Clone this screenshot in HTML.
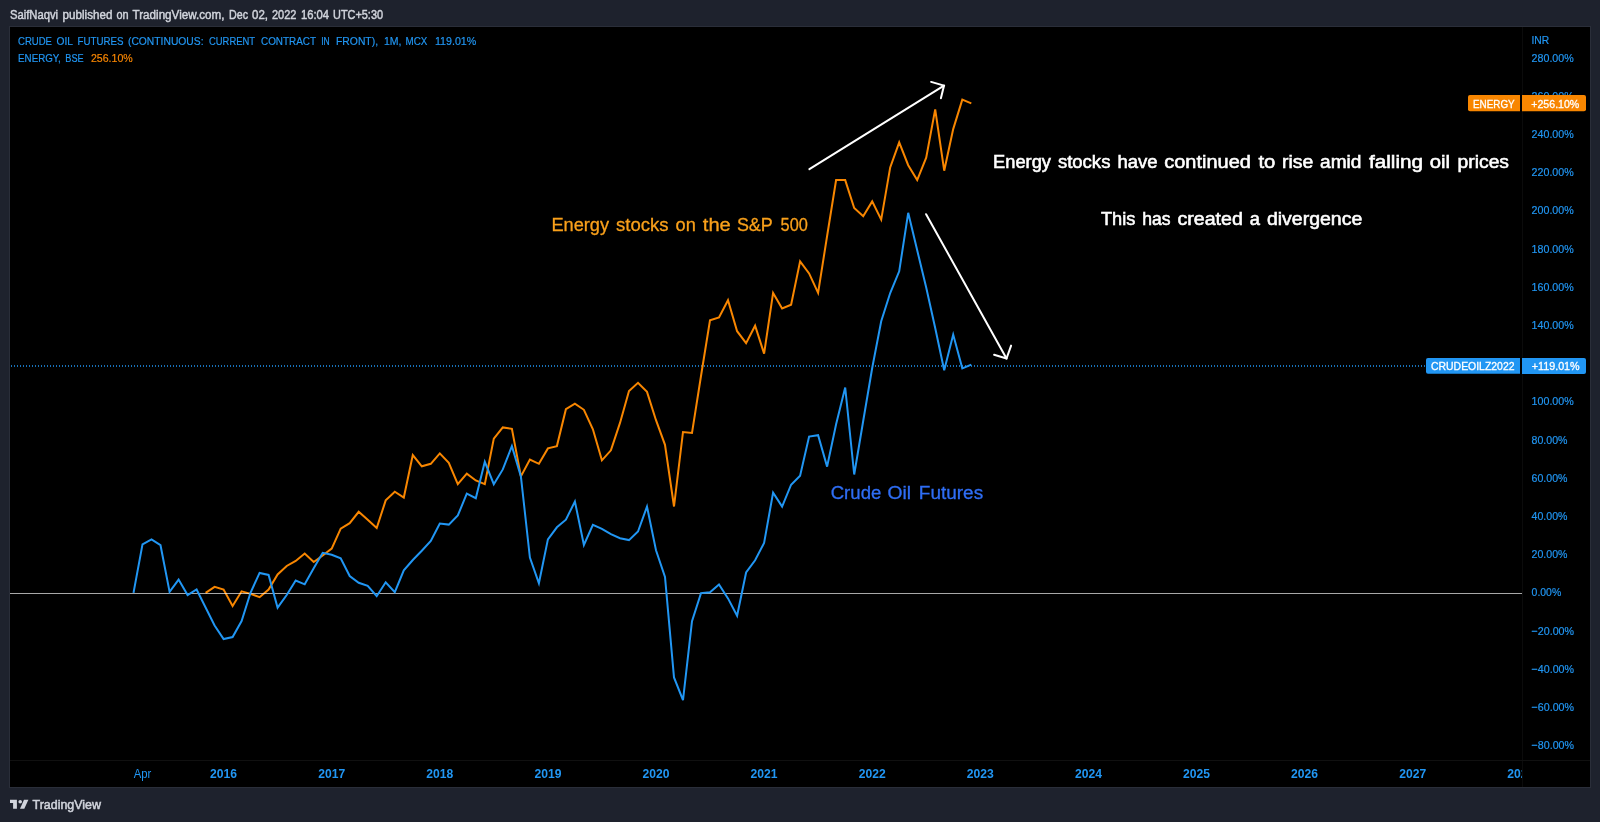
<!DOCTYPE html>
<html><head><meta charset="utf-8"><style>
html,body{margin:0;padding:0;background:#1e222d;width:1600px;height:822px;overflow:hidden}
svg{display:block;font-family:"Liberation Sans", sans-serif}
.wrap{will-change:transform;width:1600px;height:822px}
.ax{fill:#2196f3;stroke:#2196f3;stroke-width:0.2px;font-size:11.6px}
.yr{fill:#2196f3;font-size:12px;font-weight:bold}
.mo{fill:#2196f3;font-size:12px}
</style></head><body><div class="wrap">
<svg width="1600" height="822" viewBox="0 0 1600 822">
<rect x="0" y="0" width="1600" height="822" fill="#1e222d"/>
<text x="9.90" y="18.60" font-size="12" fill="#d1d4dc" textLength="48.16" lengthAdjust="spacingAndGlyphs" stroke="#d1d4dc" stroke-width="0.45">SaifNaqvi</text>
<text x="62.60" y="18.60" font-size="12" fill="#d1d4dc" textLength="49.77" lengthAdjust="spacingAndGlyphs" stroke="#d1d4dc" stroke-width="0.45">published</text>
<text x="116.40" y="18.60" font-size="12" fill="#d1d4dc" textLength="12.14" lengthAdjust="spacingAndGlyphs" stroke="#d1d4dc" stroke-width="0.45">on</text>
<text x="132.50" y="18.60" font-size="12" fill="#d1d4dc" textLength="92.01" lengthAdjust="spacingAndGlyphs" stroke="#d1d4dc" stroke-width="0.45">TradingView.com,</text>
<text x="229.00" y="18.60" font-size="12" fill="#d1d4dc" textLength="19.03" lengthAdjust="spacingAndGlyphs" stroke="#d1d4dc" stroke-width="0.45">Dec</text>
<text x="252.00" y="18.60" font-size="12" fill="#d1d4dc" textLength="15.98" lengthAdjust="spacingAndGlyphs" stroke="#d1d4dc" stroke-width="0.45">02,</text>
<text x="272.00" y="18.60" font-size="12" fill="#d1d4dc" textLength="24.49" lengthAdjust="spacingAndGlyphs" stroke="#d1d4dc" stroke-width="0.45">2022</text>
<text x="301.00" y="18.60" font-size="12" fill="#d1d4dc" textLength="28.03" lengthAdjust="spacingAndGlyphs" stroke="#d1d4dc" stroke-width="0.45">16:04</text>
<text x="333.00" y="18.60" font-size="12" fill="#d1d4dc" textLength="50.02" lengthAdjust="spacingAndGlyphs" stroke="#d1d4dc" stroke-width="0.45">UTC+5:30</text>
<rect x="9.5" y="26.5" width="1581" height="761" fill="#000" stroke="#2a2e39" stroke-width="1"/>
<line x1="1522.5" y1="27" x2="1522.5" y2="787" stroke="#0b0b0b" stroke-width="1"/>
<line x1="10" y1="760.5" x2="1590" y2="760.5" stroke="#101010" stroke-width="1"/>
<svg x="10" y="27" width="1512" height="733" viewBox="10 27 1512 733" overflow="hidden">
<line x1="10" y1="366" x2="1426" y2="366" stroke="#2196f3" stroke-width="1.35" stroke-dasharray="1 2" stroke-dashoffset="2"/>
<polyline points="205.6,592.9 214.6,586.8 223.6,589.5 232.6,606.0 241.6,591.3 250.6,593.9 259.6,597.2 268.6,589.5 277.6,574.5 286.7,566.0 295.7,560.9 304.7,553.5 313.7,562.0 322.7,555.5 331.7,548.6 340.7,528.6 349.7,523.2 358.7,511.8 367.7,519.7 376.7,528.0 385.7,500.4 394.8,491.7 403.8,497.5 412.8,455.1 421.8,466.3 430.8,463.8 439.8,453.4 448.8,462.9 457.8,484.2 466.8,473.6 475.8,480.5 484.8,484.2 493.8,438.6 502.8,427.4 511.9,428.8 520.9,476.4 529.9,459.6 538.9,463.8 547.9,448.4 556.9,446.1 565.9,409.2 574.9,403.6 583.9,409.8 592.9,429.3 601.9,460.3 610.9,450.3 620.0,422.9 629.0,391.0 638.0,382.8 647.0,391.9 656.0,420.2 665.0,444.8 674.0,506.5 683.0,432.0 692.0,433.0 701.0,376.0 710.0,320.3 719.0,317.5 728.0,300.2 737.1,331.2 746.1,343.1 755.1,325.7 764.1,353.6 773.1,292.9 782.1,308.4 791.1,304.7 800.1,261.3 809.1,273.4 818.1,292.9 827.1,236.0 836.1,180.1 845.2,180.1 854.2,208.0 863.2,216.3 872.2,201.4 881.2,219.6 890.2,167.4 899.2,142.3 908.2,165.2 917.2,180.1 926.2,157.6 935.2,109.4 944.2,170.7 953.2,129.1 962.3,99.6 971.3,103.3" fill="none" stroke="#f88600" stroke-width="2" stroke-linejoin="miter"/>
<line x1="10" y1="593.5" x2="1522" y2="593.5" stroke="#ffffff" stroke-opacity="0.66" stroke-width="1"/>
<polyline points="133.5,592.9 142.5,544.4 151.5,539.3 160.5,545.2 169.6,591.9 178.6,579.6 187.6,595.1 196.6,589.5 205.6,607.5 214.6,625.5 223.6,639.1 232.6,637.1 241.6,621.0 250.6,592.5 259.6,572.9 268.6,574.9 277.6,607.7 286.7,595.0 295.7,580.5 304.7,584.3 313.7,568.3 322.7,552.8 331.7,554.8 340.7,558.3 349.7,576.0 358.7,582.8 367.7,585.9 376.7,596.2 385.7,582.3 394.8,592.1 403.8,570.3 412.8,560.0 421.8,550.7 430.8,541.0 439.8,523.6 448.8,524.6 457.8,515.5 466.8,493.7 475.8,498.2 484.8,461.8 493.8,484.2 502.8,469.4 511.9,446.1 520.9,476.4 529.9,557.5 538.9,583.3 547.9,539.3 556.9,527.3 565.9,519.7 574.9,501.5 583.9,544.9 592.9,524.8 601.9,528.8 610.9,534.2 620.0,538.2 629.0,540.1 638.0,531.5 647.0,506.6 656.0,550.2 665.0,577.0 674.0,677.4 683.0,700.2 692.0,621.2 701.0,593.1 710.0,592.3 719.0,584.5 728.0,598.4 737.1,615.8 746.1,572.5 755.1,560.3 764.1,543.0 773.1,492.6 782.1,506.6 791.1,484.7 800.1,475.8 809.1,436.6 818.1,435.2 827.1,466.6 836.1,424.2 845.2,387.5 854.2,474.5 863.2,421.0 872.2,368.0 881.2,321.3 890.2,293.0 899.2,271.3 908.2,212.8 917.2,250.3 926.2,287.5 935.2,328.0 944.2,370.3 953.2,334.6 962.3,368.3 971.3,364.6" fill="none" stroke="#2196f3" stroke-width="2" stroke-linejoin="miter"/>
<g stroke="#fff" stroke-width="2" stroke-linecap="round" fill="none">
<line x1="809.4" y1="169.2" x2="944" y2="85.6"/>
<polyline points="931.1,81.9 944,85.6 940.9,98.2"/>
<line x1="926.1" y1="214.2" x2="1006.5" y2="358.5"/>
<polyline points="994.1,354.8 1006.5,358.5 1011.1,345.6"/>
</g>
<text x="993.10" y="168.20" font-size="18" fill="#ffffff" textLength="57.83" lengthAdjust="spacingAndGlyphs" stroke="#ffffff" stroke-width="0.55">Energy</text>
<text x="1057.90" y="168.20" font-size="18" fill="#ffffff" textLength="52.51" lengthAdjust="spacingAndGlyphs" stroke="#ffffff" stroke-width="0.55">stocks</text>
<text x="1117.40" y="168.20" font-size="18" fill="#ffffff" textLength="40.23" lengthAdjust="spacingAndGlyphs" stroke="#ffffff" stroke-width="0.55">have</text>
<text x="1164.30" y="168.20" font-size="18" fill="#ffffff" textLength="86.56" lengthAdjust="spacingAndGlyphs" stroke="#ffffff" stroke-width="0.55">continued</text>
<text x="1258.40" y="168.20" font-size="18" fill="#ffffff" textLength="16.91" lengthAdjust="spacingAndGlyphs" stroke="#ffffff" stroke-width="0.55">to</text>
<text x="1282.00" y="168.20" font-size="18" fill="#ffffff" textLength="31.30" lengthAdjust="spacingAndGlyphs" stroke="#ffffff" stroke-width="0.55">rise</text>
<text x="1320.00" y="168.20" font-size="18" fill="#ffffff" textLength="41.41" lengthAdjust="spacingAndGlyphs" stroke="#ffffff" stroke-width="0.55">amid</text>
<text x="1369.00" y="168.20" font-size="18" fill="#ffffff" textLength="54.03" lengthAdjust="spacingAndGlyphs" stroke="#ffffff" stroke-width="0.55">falling</text>
<text x="1429.70" y="168.20" font-size="18" fill="#ffffff" textLength="20.31" lengthAdjust="spacingAndGlyphs" stroke="#ffffff" stroke-width="0.55">oil</text>
<text x="1457.60" y="168.20" font-size="18" fill="#ffffff" textLength="51.42" lengthAdjust="spacingAndGlyphs" stroke="#ffffff" stroke-width="0.55">prices</text>
<text x="1101.00" y="225.00" font-size="18" fill="#ffffff" textLength="34.40" lengthAdjust="spacingAndGlyphs" stroke="#ffffff" stroke-width="0.55">This</text>
<text x="1142.30" y="225.00" font-size="18" fill="#ffffff" textLength="28.32" lengthAdjust="spacingAndGlyphs" stroke="#ffffff" stroke-width="0.55">has</text>
<text x="1177.50" y="225.00" font-size="18" fill="#ffffff" textLength="65.34" lengthAdjust="spacingAndGlyphs" stroke="#ffffff" stroke-width="0.55">created</text>
<text x="1249.70" y="225.00" font-size="18" fill="#ffffff" textLength="10.21" lengthAdjust="spacingAndGlyphs" stroke="#ffffff" stroke-width="0.55">a</text>
<text x="1266.90" y="225.00" font-size="18" fill="#ffffff" textLength="95.35" lengthAdjust="spacingAndGlyphs" stroke="#ffffff" stroke-width="0.55">divergence</text>
<text x="551.40" y="231.00" font-size="18" fill="#f9a01b" textLength="57.73" lengthAdjust="spacingAndGlyphs" stroke="#f9a01b" stroke-width="0.3">Energy</text>
<text x="616.10" y="231.00" font-size="18" fill="#f9a01b" textLength="52.51" lengthAdjust="spacingAndGlyphs" stroke="#f9a01b" stroke-width="0.3">stocks</text>
<text x="675.60" y="231.00" font-size="18" fill="#f9a01b" textLength="20.22" lengthAdjust="spacingAndGlyphs" stroke="#f9a01b" stroke-width="0.3">on</text>
<text x="702.80" y="231.00" font-size="18" fill="#f9a01b" textLength="28.03" lengthAdjust="spacingAndGlyphs" stroke="#f9a01b" stroke-width="0.3">the</text>
<text x="736.90" y="231.00" font-size="18" fill="#f9a01b" textLength="35.92" lengthAdjust="spacingAndGlyphs" stroke="#f9a01b" stroke-width="0.3">S&amp;P</text>
<text x="780.60" y="231.00" font-size="18" fill="#f9a01b" textLength="27.23" lengthAdjust="spacingAndGlyphs" stroke="#f9a01b" stroke-width="0.3">500</text>
<text x="830.70" y="499.10" font-size="18.3" fill="#2f6ef5" textLength="50.64" lengthAdjust="spacingAndGlyphs" stroke="#2f6ef5" stroke-width="0.3">Crude</text>
<text x="887.50" y="499.10" font-size="18.3" fill="#2f6ef5" textLength="23.56" lengthAdjust="spacingAndGlyphs" stroke="#2f6ef5" stroke-width="0.3">Oil</text>
<text x="918.80" y="499.10" font-size="18.3" fill="#2f6ef5" textLength="64.34" lengthAdjust="spacingAndGlyphs" stroke="#2f6ef5" stroke-width="0.3">Futures</text>
<text x="18.00" y="44.60" font-size="11.7" fill="#2196f3" textLength="34.00" lengthAdjust="spacingAndGlyphs" stroke="#2196f3" stroke-width="0.2">CRUDE</text>
<text x="56.50" y="44.60" font-size="11.7" fill="#2196f3" textLength="16.46" lengthAdjust="spacingAndGlyphs" stroke="#2196f3" stroke-width="0.2">OIL</text>
<text x="77.50" y="44.60" font-size="11.7" fill="#2196f3" textLength="45.96" lengthAdjust="spacingAndGlyphs" stroke="#2196f3" stroke-width="0.2">FUTURES</text>
<text x="128.00" y="44.60" font-size="11.7" fill="#2196f3" textLength="75.50" lengthAdjust="spacingAndGlyphs" stroke="#2196f3" stroke-width="0.2">(CONTINUOUS:</text>
<text x="209.00" y="44.60" font-size="11.7" fill="#2196f3" textLength="46.00" lengthAdjust="spacingAndGlyphs" stroke="#2196f3" stroke-width="0.2">CURRENT</text>
<text x="261.00" y="44.60" font-size="11.7" fill="#2196f3" textLength="55.00" lengthAdjust="spacingAndGlyphs" stroke="#2196f3" stroke-width="0.2">CONTRACT</text>
<text x="321.20" y="44.60" font-size="11.7" fill="#2196f3" textLength="8.50" lengthAdjust="spacingAndGlyphs" stroke="#2196f3" stroke-width="0.2">IN</text>
<text x="336.00" y="44.60" font-size="11.7" fill="#2196f3" textLength="42.04" lengthAdjust="spacingAndGlyphs" stroke="#2196f3" stroke-width="0.2">FRONT),</text>
<text x="383.90" y="44.60" font-size="11.7" fill="#2196f3" textLength="17.50" lengthAdjust="spacingAndGlyphs" stroke="#2196f3" stroke-width="0.2">1M,</text>
<text x="405.60" y="44.60" font-size="11.7" fill="#2196f3" textLength="21.80" lengthAdjust="spacingAndGlyphs" stroke="#2196f3" stroke-width="0.2">MCX</text>
<text x="434.90" y="44.60" font-size="11.7" fill="#2196f3" textLength="41.41" lengthAdjust="spacingAndGlyphs" stroke="#2196f3" stroke-width="0.2">119.01%</text>
<text x="18.10" y="61.60" font-size="11.7" fill="#2196f3" textLength="42.66" lengthAdjust="spacingAndGlyphs" stroke="#2196f3" stroke-width="0.2">ENERGY,</text>
<text x="65.30" y="61.60" font-size="11.7" fill="#2196f3" textLength="18.31" lengthAdjust="spacingAndGlyphs" stroke="#2196f3" stroke-width="0.2">BSE</text>
<text x="90.90" y="61.60" font-size="11.7" fill="#f88600" textLength="41.89" lengthAdjust="spacingAndGlyphs" stroke="#f88600" stroke-width="0.2">256.10%</text>



</svg>
<svg x="10" y="760" width="1512" height="27" viewBox="10 760 1512 27" overflow="hidden">
<text x="133.80" y="778" class="mo" textLength="17.58" lengthAdjust="spacingAndGlyphs">Apr</text><text x="210.10" y="778.2" class="yr" textLength="26.99" lengthAdjust="spacingAndGlyphs">2016</text><text x="318.20" y="778.2" class="yr" textLength="26.99" lengthAdjust="spacingAndGlyphs">2017</text><text x="426.30" y="778.2" class="yr" textLength="26.99" lengthAdjust="spacingAndGlyphs">2018</text><text x="534.40" y="778.2" class="yr" textLength="26.99" lengthAdjust="spacingAndGlyphs">2019</text><text x="642.50" y="778.2" class="yr" textLength="26.99" lengthAdjust="spacingAndGlyphs">2020</text><text x="750.60" y="778.2" class="yr" textLength="26.99" lengthAdjust="spacingAndGlyphs">2021</text><text x="858.70" y="778.2" class="yr" textLength="26.99" lengthAdjust="spacingAndGlyphs">2022</text><text x="966.80" y="778.2" class="yr" textLength="26.99" lengthAdjust="spacingAndGlyphs">2023</text><text x="1074.90" y="778.2" class="yr" textLength="26.99" lengthAdjust="spacingAndGlyphs">2024</text><text x="1183.00" y="778.2" class="yr" textLength="26.99" lengthAdjust="spacingAndGlyphs">2025</text><text x="1291.10" y="778.2" class="yr" textLength="26.99" lengthAdjust="spacingAndGlyphs">2026</text><text x="1399.20" y="778.2" class="yr" textLength="26.99" lengthAdjust="spacingAndGlyphs">2027</text><text x="1507.30" y="778.2" class="yr" textLength="26.99" lengthAdjust="spacingAndGlyphs">2028</text>
</svg>
<text x="1531.50" y="43.8" class="ax" textLength="17.68" lengthAdjust="spacingAndGlyphs">INR</text>
<text x="1531.60" y="61.6" class="ax" textLength="42.10" lengthAdjust="spacingAndGlyphs">280.00%</text><text x="1531.60" y="99.8" class="ax" textLength="42.10" lengthAdjust="spacingAndGlyphs">260.00%</text><text x="1531.60" y="138.0" class="ax" textLength="42.10" lengthAdjust="spacingAndGlyphs">240.00%</text><text x="1531.60" y="176.2" class="ax" textLength="42.10" lengthAdjust="spacingAndGlyphs">220.00%</text><text x="1531.60" y="214.4" class="ax" textLength="42.10" lengthAdjust="spacingAndGlyphs">200.00%</text><text x="1531.60" y="252.6" class="ax" textLength="42.10" lengthAdjust="spacingAndGlyphs">180.00%</text><text x="1531.60" y="290.8" class="ax" textLength="42.10" lengthAdjust="spacingAndGlyphs">160.00%</text><text x="1531.60" y="329.0" class="ax" textLength="42.10" lengthAdjust="spacingAndGlyphs">140.00%</text><text x="1531.60" y="405.4" class="ax" textLength="42.10" lengthAdjust="spacingAndGlyphs">100.00%</text><text x="1531.60" y="443.6" class="ax" textLength="35.89" lengthAdjust="spacingAndGlyphs">80.00%</text><text x="1531.60" y="481.8" class="ax" textLength="35.89" lengthAdjust="spacingAndGlyphs">60.00%</text><text x="1531.60" y="520.0" class="ax" textLength="35.89" lengthAdjust="spacingAndGlyphs">40.00%</text><text x="1531.60" y="558.2" class="ax" textLength="35.89" lengthAdjust="spacingAndGlyphs">20.00%</text><text x="1531.60" y="596.4" class="ax" textLength="29.59" lengthAdjust="spacingAndGlyphs">0.00%</text><text x="1531.60" y="634.6" class="ax" textLength="42.47" lengthAdjust="spacingAndGlyphs">−20.00%</text><text x="1531.60" y="672.8" class="ax" textLength="42.47" lengthAdjust="spacingAndGlyphs">−40.00%</text><text x="1531.60" y="711.0" class="ax" textLength="42.47" lengthAdjust="spacingAndGlyphs">−60.00%</text><text x="1531.60" y="749.2" class="ax" textLength="42.47" lengthAdjust="spacingAndGlyphs">−80.00%</text>
<path d="M1520 95 v16.3 h-50 a2 2 0 0 1 -2 -2 v-12.3 a2 2 0 0 1 2 -2 z" fill="#f88600"/>
<path d="M1522 95 h62 a2 2 0 0 1 2 2 v12.3 a2 2 0 0 1 -2 2 h-62 z" fill="#f88600"/>
<text x="1473" y="107.6" fill="#fff" stroke="#fff" stroke-width="0.3" font-size="11.3" textLength="41.7" lengthAdjust="spacingAndGlyphs">ENERGY</text>
<text x="1531.3" y="107.6" fill="#fff" stroke="#fff" stroke-width="0.3" font-size="11.3" textLength="48" lengthAdjust="spacingAndGlyphs">+256.10%</text>
<path d="M1520 358 v15.8 h-92 a2 2 0 0 1 -2 -2 v-11.8 a2 2 0 0 1 2 -2 z" fill="#2196f3"/>
<path d="M1522 358 h62 a2 2 0 0 1 2 2 v12 a2 2 0 0 1 -2 2 h-62 z" fill="#2196f3"/>
<text x="1431" y="370.3" fill="#fff" stroke="#fff" stroke-width="0.3" font-size="11.3" textLength="83.5" lengthAdjust="spacingAndGlyphs">CRUDEOILZ2022</text>
<text x="1531.7" y="370.3" fill="#fff" stroke="#fff" stroke-width="0.3" font-size="11.3" textLength="48" lengthAdjust="spacingAndGlyphs">+119.01%</text>
<g fill="#d1d4dc">
<path d="M10 799.7 H16.9 V808.8 H13.1 V803.1 H10 Z"/>
<circle cx="20.2" cy="801.7" r="1.8"/>
<path d="M24 799.7 H28.4 L24.3 808.8 H20 Z"/>
<text x="32.5" y="808.8" font-size="12" stroke="#d1d4dc" stroke-width="0.5" textLength="68.5" lengthAdjust="spacingAndGlyphs">TradingView</text>
</g>
</svg></div>
</body></html>
